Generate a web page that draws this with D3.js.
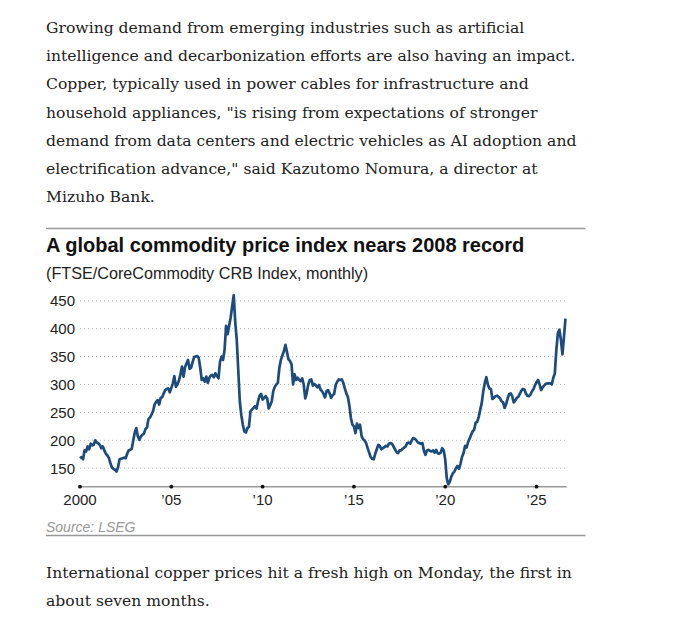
<!DOCTYPE html>
<html>
<head>
<meta charset="utf-8">
<script src="https://cdn.jsdelivr.net/npm/d3@7"></script>
<style>
  body { margin: 0; background: #fff; }
  svg { display: block; }
  .para { font-family: "DejaVu Serif", Georgia, serif; font-size: 15.6px; fill: #222; }
  .title { font-family: "Liberation Sans", Arial, sans-serif; font-weight: bold; font-size: 20px; fill: #111; }
  .subtitle { font-family: "Liberation Sans", Arial, sans-serif; font-size: 16.2px; fill: #222; }
  .tick-label { font-family: "Liberation Sans", Arial, sans-serif; font-size: 15px; fill: #222; }
  .source { font-family: "Liberation Sans", Arial, sans-serif; font-style: italic; font-size: 14px; fill: #999; }
  .rule { stroke: #999; stroke-width: 1.5; }
  .grid { stroke: #bbb; stroke-width: 1; stroke-dasharray: 1 3; }
  .axis-line { stroke: #999; stroke-width: 1.5; }
  .crb-line { fill: none; stroke: #1c4b7c; stroke-width: 2.7; stroke-linejoin: round; }
</style>
</head>
<body>
<div id="page"></div>
<script>

  // article text around the chart
  var introLines = [
    'Growing demand from emerging industries such as artificial',
    'intelligence and decarbonization efforts are also having an impact.',
    'Copper, typically used in power cables for infrastructure and',
    'household appliances, "is rising from expectations of stronger',
    'demand from data centers and electric vehicles as AI adoption and',
    'electrification advance," said Kazutomo Nomura, a director at',
    'Mizuho Bank.'
  ];

  var outroLines = [
    'International copper prices hit a fresh high on Monday, the first in',
    'about seven months.'
  ];

  // FTSE/CoreCommodity CRB Index, monthly from Jan 2000
  var startYear = 2000;
  var crbIndex = [
    168, 170, 166, 182, 180, 189, 184, 194, 191, 192, 200, 196,
    195, 192, 186, 189, 182, 176, 173, 168, 159, 151, 149, 147,
    144, 152, 166, 167, 168, 169, 168, 176, 182, 183, 185, 200,
    214, 222, 207, 201, 207, 210, 212, 220, 223, 238, 241, 246,
    252, 264, 269, 272, 264, 276, 277, 284, 290, 292, 293, 286,
    294, 302, 315, 296, 300, 307, 318, 332, 314, 331, 338, 344,
    328, 330, 340, 349, 350, 351, 348, 330, 308, 311, 305, 314,
    303, 312, 316, 317, 313, 320, 315, 311, 341, 350, 344, 362,
    405, 390, 405, 420, 440, 460, 412, 380, 325, 270, 245, 228,
    216, 214, 222, 224, 252, 255, 258, 261, 257, 270, 280, 283,
    273, 276, 279, 275, 257, 263, 270, 288, 296, 300, 303, 330,
    344, 352, 360, 371, 358, 345, 342, 336, 300, 318, 308, 312,
    308, 306, 311, 300, 275, 285, 300, 308, 309, 298, 301, 298,
    295, 299, 291, 288, 283, 277, 288, 290, 284, 276, 281, 283,
    299, 305, 309, 308, 309, 303, 293, 284, 278, 262, 240, 228,
    225, 213, 230, 222, 228, 208, 202, 200, 195, 186, 178, 170,
    167, 166, 176, 184, 192, 190, 184, 186, 188, 190, 189, 194,
    195, 194, 189, 184, 179, 177, 182, 182, 185, 187, 189, 195,
    196, 194, 200, 204, 203, 200, 196, 195, 194, 195, 181, 174,
    182, 183, 181, 180, 182, 178, 183, 177, 176, 178, 186, 182,
    165, 132, 121, 126, 135, 141, 144, 150, 154, 149, 158, 170,
    177, 190, 187, 197, 203, 210, 216, 219, 232, 233, 242, 255,
    267, 288, 303, 313, 300, 293, 292, 274, 276, 279, 280, 278,
    275, 270, 268, 258, 265, 275, 283, 284, 279, 268, 271, 276,
    278, 283, 289, 292, 291, 284, 280, 279, 282, 288, 292, 299,
    304, 308, 300, 290, 295, 298, 301, 302, 302, 302, 300, 312,
    320, 362, 392, 398, 380, 354, 385, 418
  ];

  var yTicks = [150, 200, 250, 300, 350, 400, 450];
  var xTicks = [2000, 2005, 2010, 2015, 2020, 2025];
  var xTickLabels = ['2000', '\u201905', '\u201910', '\u201915', '\u201920', '\u201925'];

  var chartTitle = 'A global commodity price index nears 2008 record';
  var chartSubtitle = '(FTSE/CoreCommodity CRB Index, monthly)';
  var chartSource = 'Source: LSEG';


  var settings = {
    width: 678,
    height: 624,
    textLeft: 46,
    introTop: 33,
    outroTop: 578,
    lineHeight: 28.2,
    ruleRight: 585.5,
    ruleTop: 228.5,
    ruleBottom: 535.5,
    titleTop: 252,
    subtitleTop: 279,
    plot: { left: 80, right: 566.7, top: 300.7, bottom: 486.7 },
    xDomain: [2000, 2026.65],
    yDomain: [117, 450],
    labelRight: 75,
    xLabelTop: 505,
    sourceTop: 532
  };

  drawPage( settings );


  function drawPage( s ) {
    var svg = d3.select('#page')
      .append('svg')
      .attr('width', s.width )
      .attr('height', s.height );

    drawParagraph( svg, introLines, s.introTop, s );
    drawParagraph( svg, outroLines, s.outroTop, s );
    drawChartFrame( svg, s );
    drawChart( svg, s );
  }


  function drawParagraph( svg, lines, top, s ) {
    svg.append('g')
      .selectAll('text')
      .data( lines )
      .enter()
      .append('text')
      .classed('para', true)
      .attr('x', s.textLeft )
      .attr('y', function ( d, i ) { return top + i * s.lineHeight; })
      .text( function ( d ) { return d; });
  }


  function drawChartFrame( svg, s ) {
    svg.append('line')
      .classed('rule', true)
      .attr('x1', s.textLeft ).attr('x2', s.ruleRight )
      .attr('y1', s.ruleTop ).attr('y2', s.ruleTop );

    svg.append('line')
      .classed('rule', true)
      .attr('x1', s.textLeft ).attr('x2', s.ruleRight )
      .attr('y1', s.ruleBottom ).attr('y2', s.ruleBottom );

    svg.append('text')
      .classed('title', true)
      .attr('x', s.textLeft )
      .attr('y', s.titleTop )
      .text( chartTitle );

    svg.append('text')
      .classed('subtitle', true)
      .attr('x', s.textLeft )
      .attr('y', s.subtitleTop )
      .text( chartSubtitle );

    svg.append('text')
      .classed('source', true)
      .attr('x', s.textLeft )
      .attr('y', s.sourceTop )
      .text( chartSource );
  }


  function drawChart( svg, s ) {
    var x = d3.scaleLinear()
      .domain( s.xDomain )
      .range([ s.plot.left, s.plot.right ]);

    var y = d3.scaleLinear()
      .domain( s.yDomain )
      .range([ s.plot.bottom, s.plot.top ]);

    // dotted grid + y labels
    var yAxis = svg.append('g');

    yAxis.selectAll('.grid')
      .data( yTicks )
      .enter()
      .append('line')
      .classed('grid', true)
      .attr('x1', s.plot.left )
      .attr('x2', s.plot.right )
      .attr('y1', function ( d ) { return y( d ); })
      .attr('y2', function ( d ) { return y( d ); });

    yAxis.selectAll('.tick-label')
      .data( yTicks )
      .enter()
      .append('text')
      .classed('tick-label', true)
      .attr('x', s.labelRight )
      .attr('y', function ( d ) { return y( d ) + 5.3; })
      .attr('text-anchor', 'end')
      .text( function ( d ) { return d; });

    // x axis: plain line with dots at the ticks
    var xAxis = svg.append('g');

    xAxis.append('line')
      .classed('axis-line', true)
      .attr('x1', s.plot.left )
      .attr('x2', s.plot.right )
      .attr('y1', s.plot.bottom )
      .attr('y2', s.plot.bottom );

    xAxis.selectAll('circle')
      .data( xTicks )
      .enter()
      .append('circle')
      .attr('cx', function ( d ) { return x( d ); })
      .attr('cy', s.plot.bottom )
      .attr('r', 1.9)
      .style('fill', '#111');

    xAxis.selectAll('.tick-label')
      .data( xTicks )
      .enter()
      .append('text')
      .classed('tick-label', true)
      .attr('x', function ( d ) { return x( d ); })
      .attr('y', s.xLabelTop )
      .attr('text-anchor', 'middle')
      .text( function ( d, i ) { return xTickLabels[i]; });

    var line = d3.line()
      .x( function ( d, i ) { return x( startYear + i / 12 ); })
      .y( function ( d ) { return y( d ); });

    svg.append('path')
      .datum( crbIndex )
      .classed('crb-line', true)
      .attr('d', line );
  }

</script>
</body>
</html>
